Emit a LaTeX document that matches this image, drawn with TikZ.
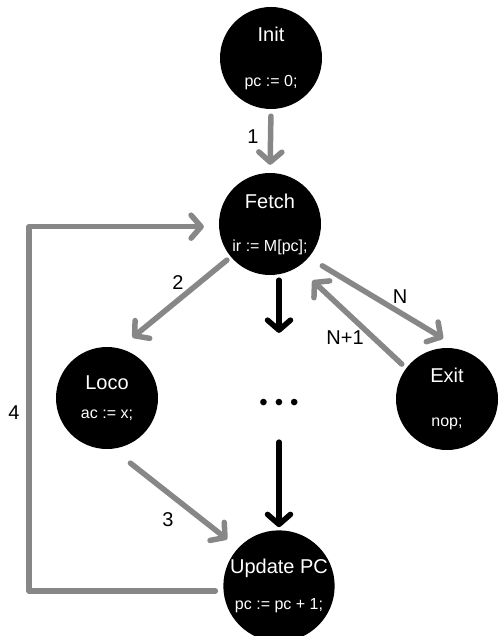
\documentclass[tikz,border=0pt]{standalone}
\usepackage{fontspec}
\setmainfont{Liberation Sans}
\usetikzlibrary{arrows.meta}
\definecolor{flowgray}{RGB}{135,135,135}
\newcommand{\subline}[1]{{\fontsize{16}{19}\selectfont #1}}

\begin{document}
\begin{tikzpicture}[x=1pt, y=-1pt,
    state/.style={circle, fill=black, text=white, minimum size=102pt, inner sep=0pt,
                  align=center, font=\fontsize{20}{24}\selectfont},
    flow/.style={line width=5.5pt, flowgray, line cap=round, line join=round,
                 -{Straight Barb[round, length=10pt, width=23pt]}},
    flowk/.style={flow, black},
    lbl/.style={font=\fontsize{20}{22}\selectfont}]
  \useasboundingbox (0,0) rectangle (499,636);

  % states
  \node[state] (init)  at (271,58)  {Init\\[21pt]\subline{pc := 0;}};
  \node[state] (fetch) at (270,224) {Fetch\\[19pt]\subline{ir := M[pc];}};
  \node[state] (loco)  at (107,398) {Loco\\[5pt]\subline{ac := x;}};
  \node[state] (exit)  at (447,399) {Exit\\[20pt]\subline{nop;}};
  \node[state] (upd)   at (279,586) {Update PC\\[12pt]\subline{pc := pc + 1;}};
  \node[font=\fontsize{24}{24}\selectfont] (dots) at (279,405) {•\hspace{7pt}•\hspace{7pt}•};
  \coordinate (rail) at (29,0);

  % transitions
  \draw[flow, shorten <=7pt, shorten >=8pt] (init.south) -- (fetch.north);
  \draw[flow, shorten <=5pt, shorten >=17pt] (fetch.220) -- (loco.76);
  \draw[flow, shorten <=23pt, shorten >=14pt] (loco.-84) -- (upd.137);
  \draw[flow, shorten <=16pt, shorten >=23pt] (fetch.-41) -- (exit.72);
  \draw[flow, shorten <=6pt, shorten >=20pt] (exit.143) -- (fetch.-57);
  \draw[flow, shorten <=8pt, shorten >=15pt] (upd.185) -- (upd.185 -| rail)
    -- (fetch.183 -| rail) -- (fetch.183);
  \draw[flowk, shorten <=5pt, shorten >=63pt] (fetch.south -| dots) -- (dots);
  \draw[flowk, shorten <=28pt, shorten >=3pt] (dots) -- (upd.north);

  % labels
  \node[lbl] (l1)  at (253,137) {1};
  \node[lbl] (l2)  at (178,283) {2};
  \node[lbl] (l3)  at (168,520) {3};
  \node[lbl] (l4)  at (14,413)  {4};
  \node[lbl] (lN)  at (400,297) {N};
  \node[lbl] (lN1) at (345,338) {N+1};
\end{tikzpicture}
\end{document}
